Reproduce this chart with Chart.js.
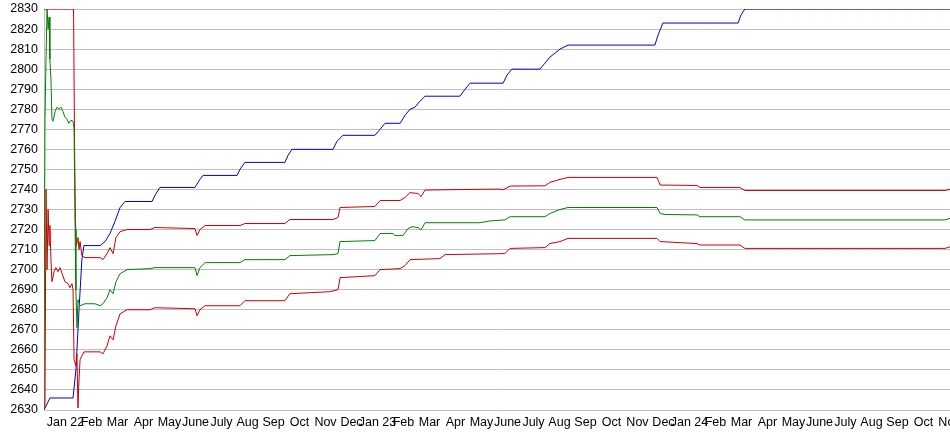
<!DOCTYPE html>
<html>
<head>
<meta charset="utf-8">
<script src="https://cdn.jsdelivr.net/npm/chart.js@4/dist/chart.umd.min.js"></script>
<style>
    html, body { margin: 0; padding: 0; background: #fff; overflow: hidden; }
    #wrap { width: 950px; height: 435px; position: relative; }
</style>
</head>
<body>
<div id="wrap"><canvas id="chart"></canvas></div>
<script>
// Month tick labels, index 0 = Jan 22
const monthLabels = [
    "Jan 22", "Feb", "Mar", "Apr", "May", "June", "July", "Aug", "Sep", "Oct", "Nov", "Dec",
    "Jan 23", "Feb", "Mar", "Apr", "May", "June", "July", "Aug", "Sep", "Oct", "Nov", "Dec",
    "Jan 24", "Feb", "Mar", "Apr", "May", "June", "July", "Aug", "Sep", "Oct", "Nov"
];

// Y axis
const yMin = 2630;
const yMax = 2830;

// x = months since Jan 22
const blueMonths = [-0.83, -0.71, -0.60, 0.29, 0.40, 0.52, 0.63, 0.71, 1.33, 1.52, 1.71, 1.90, 2.10, 2.29, 3.33, 3.44, 3.63, 4.98, 5.17, 5.29, 6.60, 6.71, 6.90, 8.44, 8.56, 8.71, 10.29, 10.44, 10.67, 11.90, 12.10, 12.29, 12.87, 13.06, 13.25, 13.44, 13.63, 13.83, 15.17, 15.37, 15.56, 16.83, 16.98, 17.17, 18.25, 18.44, 18.63, 18.83, 19.02, 19.33, 22.67, 22.79, 22.98, 25.87, 25.98, 26.13, 34.02];
const blueValues = [2630, 2633, 2636, 2636, 2650, 2680, 2705, 2712, 2712, 2714, 2718, 2724, 2731, 2734, 2734, 2737, 2741, 2741, 2745, 2747, 2747, 2750, 2753.5, 2753.5, 2757, 2760, 2760, 2764, 2767, 2767, 2770, 2773, 2773, 2777, 2780, 2781, 2784, 2786.5, 2786.5, 2790, 2793, 2793, 2797, 2800, 2800, 2803, 2806, 2808, 2810, 2812, 2812, 2817, 2823, 2823, 2827, 2830, 2830];

const upperMonths = [-0.83, 0.31, 0.35, 0.38, 0.42, 0.48, 0.52, 0.56, 0.63, 0.75, 1.33, 1.44, 1.60, 1.71, 1.83, 1.94, 2.10, 2.37, 3.25, 3.44, 4.98, 5.06, 5.17, 5.37, 6.71, 6.90, 8.44, 8.63, 10.29, 10.48, 10.56, 11.90, 12.10, 12.87, 13.06, 13.25, 13.56, 13.67, 13.83, 16.71, 16.83, 17.10, 18.44, 18.63, 19.02, 19.33, 22.75, 22.87, 24.29, 24.40, 25.94, 26.13, 33.83, 34.02];
const upperValues = [2830, 2830, 2760, 2725, 2712, 2716, 2710, 2714, 2707, 2706, 2706, 2705, 2708, 2711, 2708, 2716, 2719, 2720, 2720, 2721, 2720.5, 2717, 2720, 2722, 2722, 2723, 2723, 2725, 2725, 2726, 2731, 2731.5, 2734.5, 2734.5, 2736, 2738.4, 2738, 2736.4, 2739.7, 2740.2, 2739.8, 2741.7, 2741.8, 2743.5, 2745, 2746, 2746, 2742.2, 2742, 2741, 2741, 2739.5, 2739.5, 2740];

const greenMonths = [-0.83, -0.79, -0.75, -0.71, -0.67, -0.63, -0.60, -0.56, -0.52, -0.48, -0.40, -0.33, -0.25, -0.17, -0.10, -0.02, 0.06, 0.13, 0.21, 0.29, 0.33, 0.37, 0.40, 0.44, 0.48, 0.56, 0.75, 1.13, 1.33, 1.44, 1.60, 1.71, 1.83, 1.94, 2.10, 2.37, 3.25, 3.44, 4.98, 5.06, 5.17, 5.37, 6.71, 6.90, 8.44, 8.63, 10.29, 10.48, 10.56, 11.90, 12.10, 12.60, 12.67, 12.98, 13.17, 13.33, 13.56, 13.67, 13.83, 15.94, 16.33, 16.90, 17.10, 18.44, 18.63, 19.02, 19.33, 22.75, 22.87, 23.06, 24.29, 24.40, 25.94, 26.13, 33.83, 34.02];
const greenValues = [2630, 2775, 2805, 2830, 2820, 2826, 2805, 2795, 2775, 2774, 2779, 2781, 2780, 2781, 2779, 2776, 2775, 2773, 2774.5, 2774, 2770, 2720, 2690, 2671, 2685, 2682, 2683, 2683, 2682, 2683, 2686, 2690, 2688, 2694, 2698, 2700, 2700.5, 2701, 2701, 2697, 2701, 2703.5, 2703.5, 2705, 2705, 2707, 2707.5, 2708, 2714, 2714.5, 2718, 2718, 2717, 2717, 2720.5, 2721.4, 2721, 2719.8, 2723.4, 2723.4, 2724.3, 2724.8, 2726.4, 2726.4, 2728, 2730, 2731, 2731, 2728, 2727.5, 2727.3, 2726.4, 2726.4, 2724.8, 2724.8, 2725.6];

const lowerMonths = [-0.79, -0.75, -0.71, -0.67, -0.63, -0.60, -0.56, -0.52, -0.44, -0.37, -0.29, -0.21, -0.13, -0.02, 0.10, 0.17, 0.25, 0.29, 0.33, 0.40, 0.44, 0.48, 0.52, 0.56, 0.63, 0.71, 1.33, 1.44, 1.60, 1.71, 1.83, 1.94, 2.10, 2.37, 3.25, 3.44, 4.98, 5.06, 5.17, 5.37, 6.71, 6.90, 8.44, 8.63, 10.17, 10.48, 10.56, 11.90, 12.10, 12.87, 13.06, 13.25, 14.40, 14.60, 16.90, 17.10, 18.44, 18.63, 19.02, 19.33, 22.75, 22.87, 24.29, 24.40, 25.94, 26.13, 33.83, 34.02];
const lowerValues = [2631, 2740, 2700, 2730, 2712, 2722, 2705, 2694, 2699, 2701, 2699, 2701, 2698, 2694, 2693, 2691, 2693, 2690, 2655, 2652, 2658, 2631, 2645, 2655, 2657, 2659, 2659, 2658, 2662, 2667, 2665, 2672, 2678, 2680, 2680, 2681, 2680.5, 2677, 2680, 2682, 2682, 2684.5, 2684.5, 2688, 2689, 2690, 2696, 2697, 2700, 2700.5, 2702, 2705, 2705.5, 2707.5, 2708, 2710.6, 2711, 2713, 2714, 2715.6, 2715.6, 2714, 2713, 2712.3, 2712.3, 2710.6, 2710.6, 2711.4];

// Build {x, y} points
function toPoints(months, values) {
    return months.map((m, i) => ({ x: m, y: values[i] }));
}

function lineSet(months, values, color) {
    return {
        data: toPoints(months, values),
        borderColor: color,
        borderWidth: 1,
        pointRadius: 0,
        tension: 0,
        fill: false
    };
}

const font = { family: "'Liberation Sans', Arial, sans-serif", size: 12.5 };

new Chart(document.getElementById("chart"), {
    type: "line",
    data: {
        datasets: [
            lineSet(lowerMonths, lowerValues, "#c80000"),
            lineSet(greenMonths, greenValues, "#008000"),
            lineSet(upperMonths, upperValues, "#c80000"),
            lineSet(blueMonths, blueValues, "#0000c8")
        ]
    },
    options: {
        responsive: true,
        maintainAspectRatio: false,
        animation: false,
        devicePixelRatio: 1,
        layout: { padding: { top: 9, left: 0, right: 0, bottom: 0 } },
        plugins: {
            legend: { display: false },
            tooltip: { enabled: false }
        },
        scales: {
            x: {
                type: "linear",
                min: -0.827,
                max: 34.02,
                grid: { display: false, drawTicks: false },
                border: { display: false },
                afterBuildTicks: scale => {
                    scale.ticks = monthLabels.map((_, i) => ({ value: i }));
                },
                afterFit: scale => {
                    scale.height = 25;
                    scale.paddingLeft = 0;
                    scale.paddingRight = 0;
                },
                ticks: {
                    autoSkip: false,
                    maxRotation: 0,
                    padding: 5,
                    color: "#000",
                    font: font,
                    callback: value => monthLabels[value]
                }
            },
            y: {
                min: yMin,
                max: yMax,
                grid: { color: "#c0c0c0", drawTicks: false },
                border: { display: true, color: "#c0c0c0" },
                afterFit: scale => {
                    scale.width = 44;
                    scale.paddingTop = 0;
                    scale.paddingBottom = 0;
                },
                ticks: {
                    stepSize: 10,
                    padding: 6,
                    color: "#000",
                    font: font,
                    callback: value => String(value)
                }
            }
        }
    }
});
</script>
</body>
</html>
